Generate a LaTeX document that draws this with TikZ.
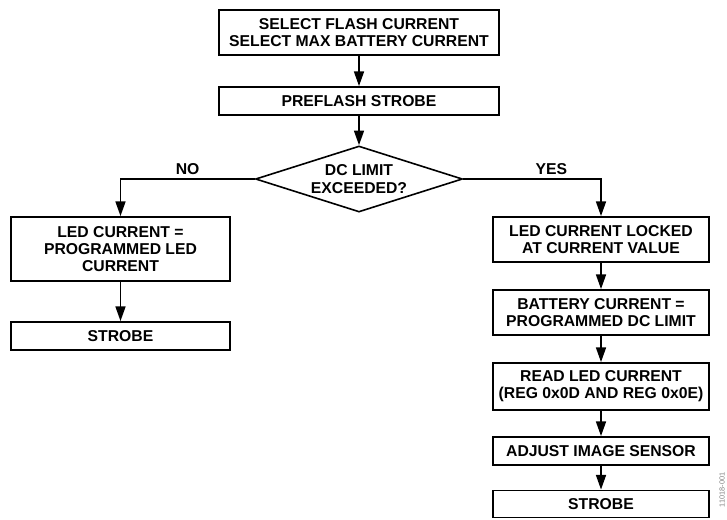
\documentclass[tikz,border=0pt]{standalone}
\usepackage{fontspec}
\setmainfont{Liberation Sans}
\usetikzlibrary{shapes.geometric,arrows.meta}

\tikzset{every picture/.style={line width=0.75pt}}
\tikzset{
  flowbox/.style={draw, line width=1.4pt, inner sep=0pt, align=center, font=\bfseries\fontsize{11.8pt}{12.9pt}\selectfont},
  flowline/.style={line width=1.2pt, -{Triangle[length=11pt,width=7.5pt]}},
  flowlabel/.style={font=\bfseries\fontsize{11.8pt}{12.9pt}\selectfont, inner sep=2.5pt},
}

\begin{document}
\begin{tikzpicture}[x=0.75pt,y=0.75pt,yscale=-1,xscale=1]
	\useasboundingbox (0,0) rectangle (727,519);

	%Shape: Rectangle [top]
	\node [flowbox, minimum width=210pt, minimum height=33.75pt] (selcur) at (359,32.5) {SELECT FLASH CURRENT\\SELECT MAX BATTERY CURRENT};
	%Shape: Rectangle
	\node [flowbox, minimum width=210pt, minimum height=21pt] (preflash) at (359,101) {PREFLASH STROBE};
	%Shape: Diamond
	\node [flowbox, shape=diamond, aspect=3, line width=1.2pt, minimum width=155.25pt, minimum height=49.5pt] (dclimit) at (359,179) {DC LIMIT\\EXCEEDED?};

	%Shape: Rectangle [NO branch]
	\node [flowbox, minimum width=164.25pt, minimum height=48pt] (ledprog) at (120.5,249) {LED CURRENT =\\PROGRAMMED LED\\CURRENT};
	%Shape: Rectangle
	\node [flowbox, minimum width=164.25pt, minimum height=21pt] (strobeno) at (120.5,336) {STROBE};

	%Shape: Rectangle [YES branch]
	\node [flowbox, minimum width=162pt, minimum height=33.75pt] (ledlock) at (601,239.5) {LED CURRENT LOCKED\\AT CURRENT VALUE};
	%Shape: Rectangle
	\node [flowbox, minimum width=162pt, minimum height=33.75pt] (battcur) at (601,312.5) {BATTERY CURRENT =\\PROGRAMMED DC LIMIT};
	%Shape: Rectangle
	\node [flowbox, minimum width=162pt, minimum height=35.25pt] (readled) at (601,386.5) {READ LED CURRENT\\(REG 0x0D AND REG 0x0E)};
	%Shape: Rectangle
	\node [flowbox, minimum width=162pt, minimum height=21pt] (adjimg) at (601,451) {ADJUST IMAGE SENSOR};
	%Shape: Rectangle
	\node [flowbox, minimum width=162pt, minimum height=20.25pt] (strobeyes) at (601,504) {STROBE};

	%Straight Lines
	\draw [flowline] (selcur.south) -- (preflash.north);
	\draw [flowline] (preflash.south) -- (dclimit.north);
	\draw [flowline] (dclimit.west) -| node [flowlabel, pos=0.25, above] (nolbl) {NO} (ledprog.north);
	\draw [flowline] (dclimit.east) -| node [flowlabel, pos=0.32, above] (yeslbl) {YES} (ledlock.north);
	\draw [flowline] (ledprog.south) -- (strobeno.north);
	\draw [flowline] (ledlock.south) -- (battcur.north);
	\draw [flowline] (battcur.south) -- (readled.north);
	\draw [flowline] (readled.south) -- (adjimg.north);
	\draw [flowline] (adjimg.south) -- (strobeyes.north);

	% Text Node
	\node [rotate=90, text=gray, font=\fontsize{5.5pt}{6pt}\selectfont, inner sep=0pt] (fignum) at (722,490) {11018-001};

\end{tikzpicture}
\end{document}
